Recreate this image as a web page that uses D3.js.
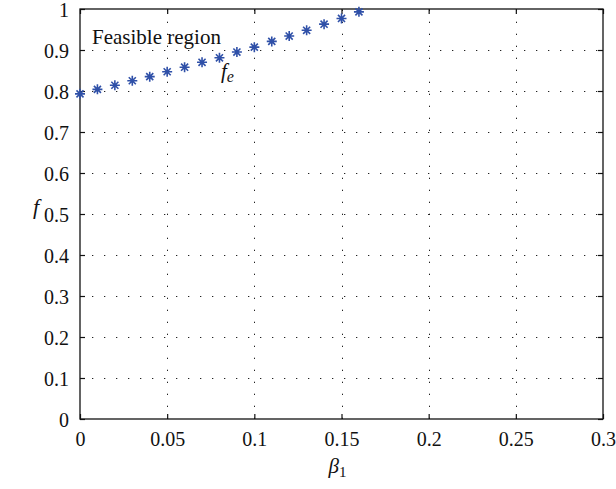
<!DOCTYPE html>
<html>
<head>
<meta charset="utf-8">
<script src="https://cdn.jsdelivr.net/npm/d3@7"></script>
</head>
<body style="margin:0">
<svg id="chart" width="616" height="489" font-family="Liberation Serif"></svg>
<script>
// ---- data ----
const beta1 = [0, 0.01, 0.02, 0.03, 0.04, 0.05, 0.06, 0.07, 0.08, 0.09, 0.10, 0.11, 0.12, 0.13, 0.14, 0.15, 0.16];
const fe = [0.793, 0.804, 0.814, 0.825, 0.835, 0.847, 0.858, 0.870, 0.881, 0.895, 0.907, 0.921, 0.934, 0.948, 0.963, 0.977, 0.993];
const xTicks = [0, 0.05, 0.1, 0.15, 0.2, 0.25, 0.3];
const xTickLabels = ["0", "0.05", "0.1", "0.15", "0.2", "0.25", "0.3"];
const yTicks = [0, 0.1, 0.2, 0.3, 0.4, 0.5, 0.6, 0.7, 0.8, 0.9, 1];
const yTickLabels = ["0", "0.1", "0.2", "0.3", "0.4", "0.5", "0.6", "0.7", "0.8", "0.9", "1"];

// ---- layout ----
const FONT = "'Liberation Serif'";
const L = 80, R = 603, T = 9, B = 419;
const svg = d3.select("#chart");
const x = d3.scaleLinear().domain([0, 0.3]).range([L, R]);
const y = d3.scaleLinear().domain([0, 1]).range([B, T]);

// grid (dotted)
const grid = svg.append("g").attr("stroke", "#222").attr("stroke-width", 1)
  .attr("stroke-dasharray", "1.3,10.7");
grid.selectAll("line.vx").data(xTicks.slice(1, -1)).join("line")
  .attr("x1", d => Math.round(x(d)) + 0.5).attr("x2", d => Math.round(x(d)) + 0.5)
  .attr("y1", B).attr("y2", T);
grid.selectAll("line.hy").data(yTicks.slice(1, -1)).join("line")
  .attr("y1", d => Math.round(y(d)) + 0.5).attr("y2", d => Math.round(y(d)) + 0.5)
  .attr("x1", L).attr("x2", R);

// axes with inward ticks
const axB = svg.append("g").attr("transform", `translate(0,${B})`)
  .call(d3.axisBottom(x).tickValues(xTicks).tickFormat((d, i) => xTickLabels[i]).tickSizeInner(-5).tickSizeOuter(0).tickPadding(13));
const axL = svg.append("g").attr("transform", `translate(${L},0)`)
  .call(d3.axisLeft(y).tickValues(yTicks).tickFormat((d, i) => yTickLabels[i]).tickSizeInner(-5).tickSizeOuter(0).tickPadding(11));
const axT = svg.append("g").attr("transform", `translate(0,${T})`)
  .call(d3.axisTop(x).tickValues(xTicks).tickFormat("").tickSizeInner(-5).tickSizeOuter(0));
const axR = svg.append("g").attr("transform", `translate(${R},0)`)
  .call(d3.axisRight(y).tickValues(yTicks).tickFormat("").tickSizeInner(-5).tickSizeOuter(0));
[axB, axL, axT, axR].forEach(a => {
  a.attr("font-family", "Liberation Serif").attr("font-size", 20);
  a.select(".domain").remove();
  a.selectAll("line").attr("stroke", "#111").attr("stroke-width", 1.2);
  a.selectAll("text").attr("font-family", "Liberation Serif").style("font-family", FONT)
    .attr("font-size", 20).attr("fill", "#111");
});
axL.selectAll("text").attr("dy", "0.36em");

// box
svg.append("rect").attr("x", L).attr("y", T)
  .attr("width", R - L).attr("height", B - T)
  .attr("fill", "none").attr("stroke", "#111").attr("stroke-width", 1.3);

// asterisk markers
const r = 5, dg = r * 0.7071;
const starPath = `M0,${-r}L0,${r}M${-r},0L${r},0M${-dg},${-dg}L${dg},${dg}M${-dg},${dg}L${dg},${-dg}`;
svg.append("g")
  .selectAll("path").data(beta1).join("path")
  .attr("transform", (d, i) => `translate(${x(d)},${y(fe[i])})`)
  .attr("d", starPath)
  .attr("stroke", "#2f50a8").attr("stroke-width", 1.6).attr("fill", "none");

// annotations
svg.append("text").attr("x", 92).attr("y", 44)
  .attr("font-family", "Liberation Serif").style("font-family", FONT).attr("font-size", 21)
  .attr("fill", "#111").text("Feasible region");
const fel = svg.append("text").attr("x", 221).attr("y", 78)
  .attr("font-family", "Liberation Serif").style("font-family", FONT)
  .attr("font-size", 21).attr("font-style", "italic").attr("fill", "#111");
fel.append("tspan").text("f");
fel.append("tspan").attr("dy", 4).attr("font-size", 16).text("e");

// axis titles
const xt = svg.append("text").attr("x", x(0.15) - 4).attr("y", 473).attr("text-anchor", "middle")
  .attr("font-family", "Liberation Serif").style("font-family", FONT)
  .attr("font-size", 21).attr("font-style", "italic").attr("fill", "#111");
xt.append("tspan").text("β");
xt.append("tspan").attr("dy", 4).attr("font-size", 15).attr("font-style", "normal").text("1");

svg.append("text").attr("x", 36).attr("y", 214).attr("text-anchor", "middle")
  .attr("font-family", "Liberation Serif").style("font-family", FONT)
  .attr("font-size", 22).attr("font-style", "italic")
  .attr("fill", "#111").text("f");
</script>
</body>
</html>
